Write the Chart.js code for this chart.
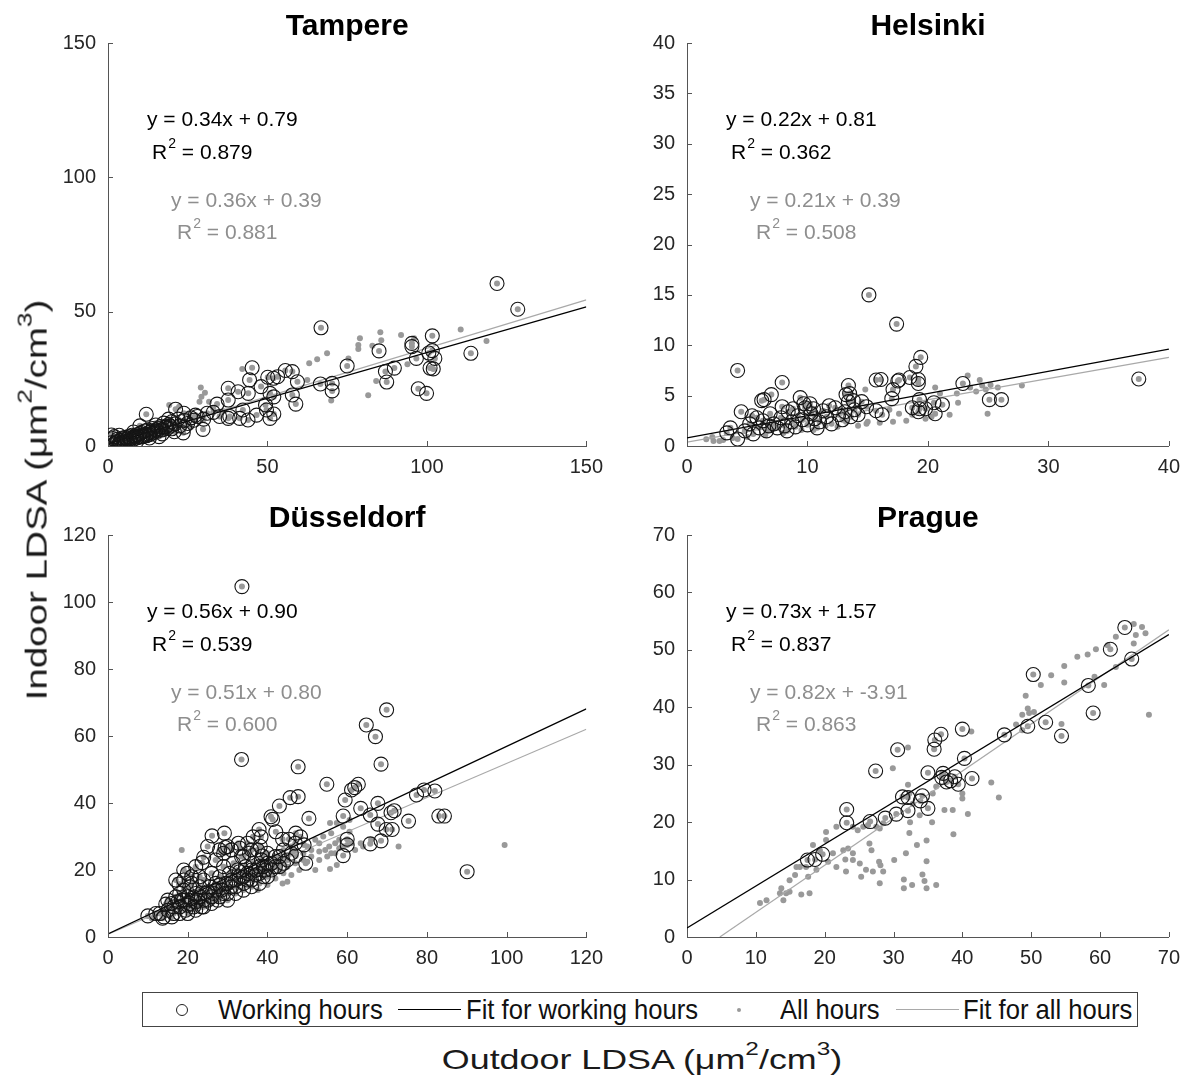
<!DOCTYPE html>
<html>
<head>
<meta charset="utf-8">
<script src="https://cdn.jsdelivr.net/npm/chart.js@4.4.0/dist/chart.umd.min.js"></script>
<style>
    body {
        margin: 0;
        width: 1189px;
        height: 1089px;
        background: #fff;
        position: relative;
        overflow: hidden;
        font-family: "Liberation Sans", Arial, sans-serif;
        color: #111;
    }
    canvas { position: absolute; }
    .axis-title {
        position: absolute;
        white-space: nowrap;
        color: #1a1a1a;
        line-height: 1.2;
    }
    .axis-title sup { font-size: 0.68em; position: relative; top: -0.75em; vertical-align: baseline; line-height: 0; }
    #x-title { font-size: 28px; left: 642px; top: 1043px; transform: translateX(-50%) scaleX(1.28); }
    #y-title { font-size: 29px; left: 37px; top: 500px; transform: translate(-50%, -50%) rotate(-90deg) scaleX(1.33); }
    #legend {
        position: absolute;
        left: 142px;
        top: 992px;
        width: 994px;
        height: 33px;
        border: 1px solid #444;
        font-size: 28px;
    }
    #legend span {
        position: absolute;
        top: 0;
        line-height: 33px;
        color: #111;
        white-space: nowrap;
        transform-origin: left center;
        transform: scaleX(0.915);
    }
    #legend .mark { position: absolute; }
</style>
</head>
<body>
<canvas id="c0"></canvas>
<canvas id="c1"></canvas>
<canvas id="c2"></canvas>
<canvas id="c3"></canvas>
<div class="axis-title" id="y-title">Indoor LDSA (μm<sup>2</sup>/cm<sup>3</sup>)</div>
<div class="axis-title" id="x-title">Outdoor LDSA (μm<sup>2</sup>/cm<sup>3</sup>)</div>
<div id="legend"></div>
<script>
// panel order: Tampere, Helsinki, Düsseldorf, Prague
const cities = ['Tampere', 'Helsinki', 'Düsseldorf', 'Prague'];
const axisMax = [150, 40, 120, 70];
const xStep = [50, 10, 20, 10];
const yStep = [50, 5, 20, 10];

const slopeWork = [0.34, 0.22, 0.56, 0.73];
const interceptWork = [0.79, 0.81, 0.90, 1.57];
const r2Work = [0.879, 0.362, 0.539, 0.837];
const slopeAll = [0.36, 0.21, 0.51, 0.82];
const interceptAll = [0.39, 0.39, 0.80, -3.91];
const r2All = [0.881, 0.508, 0.600, 0.863];

const legendLabels = ['Working hours', 'Fit for working hours', 'All hours', 'Fit for all hours'];

// [outdoor, indoor] pairs, working hours (circled)
const tampereWorking = [
    [122, 60.5], [128.5, 50.9], [66.8, 44], [101.7, 41], [95.3, 38.2], [95.3, 37], [85, 35.4],
    [101.7, 35.5], [100.6, 34.6], [96.7, 32.6], [102.5, 32.6], [113.8, 34.5], [101, 29], [102, 28.7],
    [75, 29.8], [89.8, 29], [87, 27.7], [87.4, 23.8], [97.3, 21.3], [99.9, 19.6], [66.6, 23.1],
    [70.3, 23.3], [70.3, 20.5], [59.4, 23.9], [57.8, 27.7], [55.6, 28.1], [53.2, 25.8], [51.9, 25.2],
    [50.1, 25.6], [57.8, 19], [58.9, 15.6], [45.2, 29.1], [44.4, 24.6], [48, 22.1], [37.7, 21.5],
    [40.8, 20.2], [44, 19.6], [50.8, 19.6], [52, 18.3], [49.4, 15.3], [49.7, 13.4], [52, 11.9],
    [50.8, 10.3], [46.6, 11.5], [43.9, 9.7], [41.3, 10.3], [42.3, 13.4], [38.2, 11], [37.7, 10.3],
    [34.2, 15.6], [37.7, 17.1], [31.1, 12.2], [29.8, 6.2],
    [1, 1.2], [1.5, 2.8], [2, 0.8], [2.5, 1.6], [3, 1.5], [3, 2.5], [3.5, 0.9], [4, 2.1], [4, 1.2],
    [4.5, 3], [5, 2.4], [5, 1.5], [5.5, 3.2], [6, 2.6], [6, 1.8], [6.5, 3.5], [7, 2.9], [7, 2.2],
    [7.5, 4], [8, 3.3], [8, 2.5], [8.5, 3.8], [9, 4.2], [9, 3], [9.5, 3.6], [10, 4.6], [10, 3.3],
    [10.5, 5], [11, 4], [11, 3.5], [11.5, 5.6], [12, 4.4], [12, 3.8], [12.5, 6], [13, 5], [13, 4.2],
    [13.5, 5.5], [14, 6.5], [14, 4.8], [14.5, 5.2], [15, 6], [15, 7.8], [15.5, 5.5], [16, 6.5],
    [16.5, 7.2], [17, 6], [17.5, 8.5], [18, 7], [18.5, 6.5], [19, 8], [19.5, 7.4], [20, 9], [20, 6.4],
    [21, 8.2], [22, 10], [22.5, 7.5], [24, 9.5], [25, 8.4], [26, 10.5], [27, 9.6], [28, 11],
    [12, 11.8], [21.2, 13.7], [23.8, 12.2], [27.4, 11.5], [20.8, 5.3], [23.6, 4.9], [18.2, 7.2],
    [2, 3.5], [8, 5.2], [10, 7.5], [6, 0.8], [16, 3.5], [1.1, 4.1], [3.5, 4], [5, 0.6], [9, 1.8],
    [13, 3], [17, 4.5], [19, 10], [24, 7], [30, 10], [33, 12.5], [35, 11]
];
const tampereOther = [
    [110.6, 43.4], [118.7, 39.1], [85.4, 42.3], [91.9, 41.3], [85.7, 39.4], [79, 40.1], [78.5, 37.6],
    [78.5, 36.1], [82.9, 37.3], [96, 40.1], [93.9, 30.4], [75.4, 32.6], [68.7, 34.5], [65.6, 32.3],
    [63.1, 30.8], [62.5, 24.6], [84.1, 24.2], [81.6, 18.9], [70, 16.9], [42.1, 28.7], [29.1, 21.8],
    [30.4, 19.8], [29.3, 18.3], [28.7, 16.5], [31.7, 16.5], [19.2, 15.3], [22.3, 14.6], [25, 12],
    [33, 14], [36, 13], [15, 8.5], [11, 6], [7, 4.5], [4, 2.8], [2, 1.5], [18, 5], [26, 7]
];

const helsinkiWorking = [
    [15.1, 15.0], [17.4, 12.1], [4.2, 7.5], [19.4, 8.8], [19.0, 7.9], [18.5, 6.8], [19.2, 6.6],
    [19.2, 6.2], [17.5, 6.45], [17.6, 6.55], [17.1, 5.6], [17.0, 4.7], [15.7, 6.55], [16.1, 6.6],
    [37.5, 6.65], [22.9, 6.2], [25.1, 4.6], [26.1, 4.6], [19.3, 4.6], [19.3, 3.7], [18.7, 3.8],
    [19.8, 3.7], [19.2, 3.4], [20.5, 4.3], [21.2, 4.1], [20.6, 3.2], [16.2, 3.1], [15.7, 3.5],
    [4.5, 3.4], [7.9, 6.3], [7.0, 5.1], [6.4, 4.6], [6.2, 4.5], [9.4, 4.8], [7.9, 3.9], [13.4, 6.0],
    [13.2, 5.1], [13.5, 5.2], [13.4, 4.4], [13.8, 4.5], [14.5, 4.4], [14.9, 3.9], [9.7, 4.2],
    [10.2, 4.2], [8.8, 3.7], [10.5, 3.7], [3.6, 1.8], [3.3, 1.3], [4.2, 0.7],
    [4.8, 1.5], [5.2, 2.2], [5.5, 1.2], [5.8, 2.8], [6, 1.8], [6.3, 2.5], [6.6, 1.5], [6.9, 3.2],
    [7.2, 2.2], [7.5, 1.8], [7.8, 2.8], [8.1, 2.0], [8.4, 3.4], [8.7, 2.4], [9, 1.9], [9.2, 3.0],
    [9.6, 2.6], [10, 2.1], [10.3, 3.2], [10.6, 2.7], [11, 2.4], [11.3, 3.5], [11.6, 2.9], [12, 2.2],
    [12.3, 3.8], [12.6, 3.1], [12.9, 2.6], [13.1, 3.4], [13.6, 2.9], [13.9, 3.6], [14.2, 3.1],
    [11.8, 4.0], [10.8, 1.8], [9.8, 3.8], [8.3, 1.5], [6.8, 2.0], [5.4, 3.0]
];
const helsinkiOther = [
    [23.3, 7.0], [24.3, 6.55], [24.5, 6.0], [25.2, 6.05], [24.8, 5.6], [24.0, 5.4], [27.8, 6.0],
    [20.6, 5.8], [21.0, 5.2], [22.4, 5.2], [14.8, 5.6], [24.95, 3.2], [21.8, 3.1], [20.3, 2.9],
    [17.1, 2.4], [17.6, 3.2], [18.7, 3.1], [14.9, 2.2], [16.0, 2.3], [15.0, 2.4], [1.6, 0.66],
    [2.2, 0.5], [2.7, 0.5], [2.1, 0.9], [3, 0.6], [3.8, 0.8], [22.5, 4.3], [23.5, 5.8], [25.8, 5.8],
    [19.8, 2.7], [18.2, 2.5], [16.8, 3.6], [13.2, 2.4], [14.2, 2.0], [12.5, 1.9], [11.5, 2.0],
    [10.5, 1.6], [9.5, 1.6], [8, 1.3], [6.5, 1.1], [5, 0.9], [7, 1.6]
];

const dusseldorfWorking = [
    [33.6, 104.6], [69.9, 67.8], [64.8, 63.3], [67.1, 59.8], [68.5, 51.6], [33.5, 53.0], [47.7, 50.8],
    [54.9, 45.6], [61.1, 43.9], [61.9, 44.6], [62.8, 45.6], [77.4, 42.4], [79.3, 43.9], [82.0, 43.6],
    [45.7, 41.6], [47.7, 41.9], [59.5, 40.9], [43.0, 39.1], [67.7, 39.9], [63.4, 38.4], [59.0, 36.1],
    [65.8, 36.4], [71.0, 37.1], [71.8, 37.7], [75.4, 34.6], [83.0, 36.1], [84.4, 36.1], [67.7, 33.7],
    [69.8, 32.1], [71.3, 32.1], [68.5, 28.7], [65.8, 27.8], [60.0, 29.2], [60.0, 27.5], [59.0, 24.3],
    [90.1, 19.5], [50.4, 35.4], [40.9, 35.9], [41.3, 35.1], [37.9, 32.1], [42.1, 31.4], [36.4, 29.9],
    [38.4, 29.9], [43.8, 29.2], [45.4, 29.2], [47.1, 31], [48.3, 29.9], [49.2, 27.5], [26.1, 30.2],
    [29.2, 31.0], [29.4, 26.7], [32.7, 28.0], [33.1, 26.5], [24.0, 23.8], [23.6, 22.2], [38.2, 27.1],
    [38.7, 24.2], [49.6, 22.0], [47.1, 24.2], [19.9, 19.0], [17.8, 15.8], [10.0, 6.3], [13.7, 5.6],
    [14.5, 9.8],
    [15, 8], [16, 10], [16.5, 7], [17, 12], [18, 9], [18.5, 11], [19, 14], [19.5, 8], [20, 12],
    [20.5, 10], [21, 16], [21.5, 9], [22, 13], [22.5, 11], [23, 15], [23.5, 9], [24, 17], [24.5, 13],
    [25, 11], [25.5, 15], [26, 19], [26.5, 13], [27, 16], [27.5, 11], [28, 18], [28.5, 14], [29, 21],
    [29.5, 16], [30, 13], [30.5, 19], [31, 17], [31.5, 22], [32, 15], [32.5, 20], [33, 18], [33.5, 24],
    [34, 16], [34.5, 21], [35, 19], [35.5, 25], [36, 17], [36.5, 22], [37, 20], [37.5, 26], [38, 19],
    [38.5, 23], [39, 21], [39.5, 20], [40, 25], [41, 22], [42, 24], [43, 21], [44, 26], [45, 23],
    [46, 25], [47, 28], [12, 7], [13, 7], [14, 6], [16, 6], [18, 7], [20, 7], [22, 8], [24, 9],
    [26, 10], [28, 12], [30, 11], [32, 13], [34, 14], [36, 15], [38, 16], [40, 18], [17, 17], [19, 20],
    [23, 18], [27, 23], [31, 26], [35, 28], [25, 27], [28, 26],
    [16.5, 9], [17.5, 10.5], [19, 11], [20, 9.5], [21, 11.5], [22, 10.5], [23, 12], [24, 11],
    [25, 13.5], [26, 12], [27, 14], [28, 15.5], [29, 13], [30, 16], [31, 15], [32, 17], [33, 19.5],
    [34, 18], [35, 17], [36, 20], [37, 18.5], [38, 21], [39, 18], [40, 22], [41, 20], [42, 21],
    [43, 24], [44, 22], [21, 18], [22, 21], [19, 17], [20.5, 15], [29, 25], [30, 27], [34, 24],
    [36, 26], [18, 13], [15, 11]
];
const dusseldorfOther = [
    [99.5, 27.5], [72.9, 27.0], [18.5, 26.0], [63.4, 28.0], [57.4, 21.5], [55.7, 20.3], [55.5, 27],
    [57, 28], [54.5, 26], [51, 24], [53, 25.5], [45.0, 16.5], [43.8, 16.0], [37.6, 14.0], [60.6, 34.9],
    [57.4, 34.0], [55.7, 34.0], [59, 32.9], [60.6, 31.4], [48, 20], [50, 22.5], [52, 20], [46, 18.5],
    [44, 19], [42, 17.5], [40, 15.5], [56, 25], [58, 26.5], [62, 26], [64, 27], [66, 29], [53, 28],
    [49, 25], [47, 22], [45, 21], [39, 20], [36, 18], [33, 16], [30, 14], [27, 12], [24, 10], [21, 9],
    [18, 8], [14, 7.5], [11, 5.5],
    [41, 19], [43, 20], [45, 24], [47, 25.5], [49, 23], [51, 26], [53, 23], [55, 24], [57, 25],
    [59, 27], [61, 28], [50, 27], [52, 29], [54, 30], [56, 31], [58, 29], [46, 27], [44, 23]
];

const pragueWorking = [
    [63.6, 53.9], [61.5, 50.1], [64.6, 48.4], [50.3, 45.7], [58.3, 43.8], [59.0, 39.0], [49.5, 36.7],
    [52.1, 37.4], [54.4, 35.0], [46.1, 35.2], [40.0, 36.2], [40.3, 31.1], [36.9, 35.3], [36.0, 34.3],
    [35.9, 32.7], [41.4, 27.6], [39.4, 26.6], [38.9, 27.9], [38.3, 27.2], [37.7, 27.0], [37.2, 28.5],
    [37.0, 27.8], [35.0, 28.6], [30.6, 32.6], [27.4, 28.9], [31.3, 24.4], [32.1, 24.3], [32.1, 22.0],
    [34.2, 24.6], [33.9, 23.7], [35.0, 22.4], [30.4, 21.4], [28.8, 20.7], [26.6, 20.1], [23.2, 22.2],
    [23.2, 19.9], [17.5, 13.4], [18.6, 13.5], [19.7, 14.4]
];
const pragueOther = [
    [64.9, 54.5], [66.1, 54.0], [66.6, 52.9], [65.2, 52.6], [64.9, 51.1], [67.1, 38.7], [62.3, 52.3],
    [61.1, 50.8], [59.4, 50.1], [58.2, 49.2], [56.7, 48.8], [54.8, 47.2], [52.9, 45.6], [51.4, 43.9],
    [54.8, 44.3], [62.3, 47.0], [59.2, 45.3], [60.6, 43.9], [49.2, 42.0], [49.5, 39.8], [48.7, 38.7],
    [50.4, 39.2], [49.7, 39.0], [47.8, 37.0], [48.7, 36.0], [54.4, 37.1], [41.3, 35.8], [44.2, 26.9],
    [45.3, 24.3], [40.8, 21.4], [38.7, 17.9], [37.4, 22.1], [35.6, 20.0], [34.8, 16.8], [34.8, 13.2],
    [34.5, 9.75], [34.8, 8.5], [36.2, 9.05], [34.2, 10.9], [33.4, 16.0], [32.4, 20.0], [32.3, 18.1],
    [31.8, 14.6], [32.7, 9.05], [31.5, 8.5], [31.5, 10.0], [30.1, 13.4], [29.9, 29.4], [32.1, 33.0],
    [32.1, 26.5], [28.0, 9.35], [28.1, 12.5], [27.9, 13.1], [28.5, 11.4], [27.0, 11.4], [26.8, 15.1],
    [26.5, 16.3], [25.3, 10.5], [25.1, 12.8], [26.0, 11.7], [24.1, 14.6], [24.1, 13.4], [23.1, 11.4],
    [23.4, 15.4], [23.0, 13.5], [22.7, 15.1], [21.7, 12.2], [21.2, 14.6], [20.5, 13.1], [20.2, 16.9],
    [19.3, 15.1], [18.3, 16.0], [17.3, 12.2], [17.8, 7.6], [16.6, 7.4], [18.8, 11.7], [17.6, 10.5],
    [15.9, 12.2], [14.9, 7.9], [14.0, 6.4], [13.5, 7.6], [11.55, 6.4], [10.6, 5.9], [14.4, 7.6],
    [13.7, 8.5], [14.9, 9.9], [15.7, 10.8], [16.4, 12.2], [20.2, 18.3], [21.7, 19.2], [24.1, 19.2],
    [24.8, 18.6], [25.6, 19.2], [26.3, 19.5], [27.5, 19.2], [28.5, 19.8], [28.0, 18.9], [32.3, 25.0],
    [32.8, 23.2], [33.8, 21.2], [35.7, 25.0], [36.2, 26.2], [37.1, 28.5], [40.0, 25.0], [40.0, 24.1],
    [38.6, 22.1]
];

const workingSets = [tampereWorking, helsinkiWorking, dusseldorfWorking, pragueWorking];
const otherSets = [tampereOther, helsinkiOther, dusseldorfOther, pragueOther];

// plot-area rectangles on the page: [left, top, right, bottom]
const plotRects = [
    [108, 43, 593, 446],
    [687, 43, 1170, 446],
    [108, 535, 593, 937],
    [687, 535, 1170, 937]
];
const Y_AXIS_W = 58;
const X_AXIS_H = 35;
const TITLE_H = 43;
const PAD_RIGHT = 19;
const FONT = '"Liberation Sans", Arial, sans-serif';
const GREY_DOT = '#999999';
const GREY_LINE = '#a9a9a9';
const GREY_TEXT = '#8e8e8e';

const inwardTicks = {
    id: 'inwardTicks',
    afterDatasetsDraw(chart) {
        const { ctx, chartArea, scales } = chart;
        ctx.save();
        ctx.strokeStyle = '#555';
        ctx.lineWidth = 1;
        ctx.beginPath();
        scales.x.ticks.forEach((t, i) => {
            const px = Math.round(scales.x.getPixelForTick(i)) + 0.5;
            ctx.moveTo(px, chartArea.bottom);
            ctx.lineTo(px, chartArea.bottom - 5);
        });
        scales.y.ticks.forEach((t, i) => {
            const py = Math.round(scales.y.getPixelForTick(i)) + 0.5;
            ctx.moveTo(chartArea.left, py);
            ctx.lineTo(chartArea.left + 5, py);
        });
        ctx.stroke();
        ctx.restore();
    }
};

function drawR2(ctx, x, y, r2) {
    ctx.font = '21px ' + FONT;
    ctx.fillText('R', x, y);
    const w = ctx.measureText('R').width;
    ctx.font = '14px ' + FONT;
    ctx.fillText('2', x + w + 1, y - 9);
    const w2 = ctx.measureText('2').width;
    ctx.font = '21px ' + FONT;
    ctx.fillText(' = ' + r2.toFixed(3), x + w + w2 + 1, y);
}

const equations = {
    id: 'equations',
    afterDraw(chart, args, opts) {
        const { ctx, chartArea } = chart;
        const x0 = chartArea.left;
        const y0 = chartArea.top;
        ctx.save();
        ctx.textBaseline = 'middle';
        ctx.textAlign = 'left';
        ctx.fillStyle = '#000';
        ctx.font = '21px ' + FONT;
        ctx.fillText(opts.workEq, x0 + 39, y0 + 77);
        drawR2(ctx, x0 + 44, y0 + 110, opts.workR2);
        ctx.fillStyle = GREY_TEXT;
        ctx.font = '21px ' + FONT;
        ctx.fillText(opts.allEq, x0 + 63, y0 + 158);
        drawR2(ctx, x0 + 69, y0 + 190, opts.allR2);
        ctx.restore();
    }
};

function fmtEq(s, b) {
    return 'y = ' + s.toFixed(2) + 'x + ' + b.toFixed(2);
}

function fitLine(s, b, max) {
    const xStart = Math.max(0, -b / s);
    return [{ x: xStart, y: s * xStart + b }, { x: max, y: s * max + b }];
}

function toPoints(pairs) {
    return pairs.map(p => ({ x: p[0], y: p[1] }));
}

function renderPanel(i) {
    const [left, top, right, bottom] = plotRects[i];
    const canvas = document.getElementById('c' + i);
    canvas.width = (right - left) + Y_AXIS_W + PAD_RIGHT;
    canvas.height = (bottom - top) + TITLE_H + X_AXIS_H;
    canvas.style.left = (left - Y_AXIS_W) + 'px';
    canvas.style.top = (top - TITLE_H) + 'px';

    const working = toPoints(workingSets[i]);
    const all = toPoints(workingSets[i].concat(otherSets[i]));
    const max = axisMax[i];

    new Chart(canvas, {
        type: 'scatter',
        data: {
            datasets: [
                {
                    label: legendLabels[0],
                    data: working,
                    pointRadius: 7,
                    pointBorderWidth: 1.1,
                    pointBorderColor: '#151515',
                    pointBackgroundColor: 'rgba(0,0,0,0)',
                    order: 1
                },
                {
                    label: legendLabels[1],
                    data: fitLine(slopeWork[i], interceptWork[i], max),
                    showLine: true,
                    borderColor: '#000',
                    borderWidth: 1.3,
                    pointRadius: 0,
                    order: 2
                },
                {
                    label: legendLabels[3],
                    data: fitLine(slopeAll[i], interceptAll[i], max),
                    showLine: true,
                    borderColor: GREY_LINE,
                    borderWidth: 1.2,
                    pointRadius: 0,
                    order: 3
                },
                {
                    label: legendLabels[2],
                    data: all,
                    pointRadius: 3,
                    pointBorderWidth: 0,
                    pointBackgroundColor: GREY_DOT,
                    order: 4
                }
            ]
        },
        options: {
            responsive: false,
            animation: false,
            events: [],
            devicePixelRatio: 1,
            layout: { padding: { top: 0, left: 0, right: PAD_RIGHT, bottom: 0 } },
            plugins: {
                legend: { display: false },
                tooltip: { enabled: false },
                title: {
                    display: true,
                    text: cities[i],
                    fullSize: false,
                    color: '#000',
                    font: { family: FONT, size: 30, weight: 'bold', lineHeight: 1 },
                    padding: { top: 12, bottom: TITLE_H - 30 - 12 }
                },
                equations: {
                    workEq: fmtEq(slopeWork[i], interceptWork[i]),
                    workR2: r2Work[i],
                    allEq: fmtEq(slopeAll[i], interceptAll[i]),
                    allR2: r2All[i]
                }
            },
            scales: {
                x: {
                    type: 'linear',
                    min: 0,
                    max: max,
                    afterFit: s => { s.height = X_AXIS_H; },
                    grid: { display: false, drawTicks: false },
                    border: { display: true, color: '#555', width: 1 },
                    ticks: {
                        stepSize: xStep[i],
                        padding: 9,
                        color: '#262626',
                        font: { family: FONT, size: 20 }
                    }
                },
                y: {
                    type: 'linear',
                    min: 0,
                    max: max,
                    afterFit: s => { s.width = Y_AXIS_W; },
                    grid: { display: false, drawTicks: false },
                    border: { display: true, color: '#555', width: 1 },
                    ticks: {
                        stepSize: yStep[i],
                        padding: 12,
                        color: '#262626',
                        font: { family: FONT, size: 20 }
                    }
                }
            }
        },
        plugins: [inwardTicks, equations]
    });
}

function renderLegend() {
    const el = document.getElementById('legend');
    const textLeft = [75, 323, 637, 820];
    legendLabels.forEach((label, k) => {
        const span = document.createElement('span');
        span.textContent = label;
        span.style.left = textLeft[k] + 'px';
        el.appendChild(span);
    });
    const marks = [
        { left: 33, top: 11, width: 10, height: 10, border: '1px solid #222', borderRadius: '50%' },
        { left: 255, top: 16, width: 63, height: 0, borderTop: '1px solid #000' },
        { left: 594, top: 15, width: 4, height: 4, background: GREY_DOT, borderRadius: '50%' },
        { left: 753, top: 16, width: 63, height: 0, borderTop: '1px solid ' + GREY_LINE }
    ];
    marks.forEach(m => {
        const d = document.createElement('div');
        d.className = 'mark';
        Object.entries(m).forEach(([k, v]) => {
            d.style[k] = typeof v === 'number' ? v + 'px' : v;
        });
        el.appendChild(d);
    });
}

cities.forEach((c, i) => renderPanel(i));
renderLegend();
</script>
</body>
</html>
